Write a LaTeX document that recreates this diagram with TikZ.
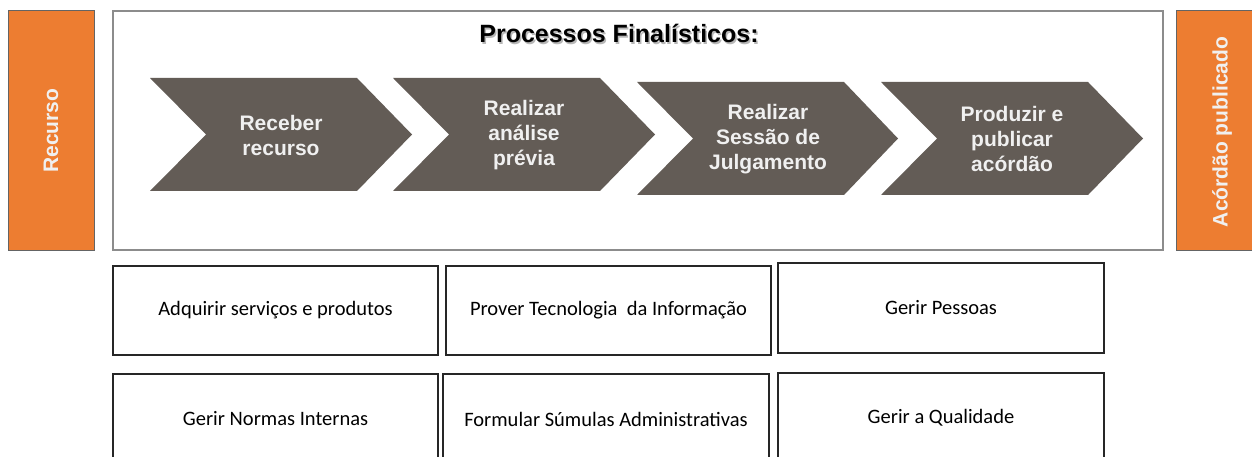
\documentclass[tikz,border=0pt]{standalone}
\usepackage{fontspec}
\setmainfont{Liberation Sans}
\newfontfamily\boxfont{Carlito}
\definecolor{chevfill}{RGB}{99,92,86}
\definecolor{orng}{RGB}{237,125,49}
\definecolor{framegray}{RGB}{140,140,140}
\definecolor{edgegray}{RGB}{100,100,100}
\definecolor{lighttext}{RGB}{240,240,240}
\tikzset{
  orangebox/.style={fill=orng, draw=edgegray, line width=1pt},
  mainframe/.style={draw=framegray, line width=1.5pt},
  chev/.style={fill=chevfill},
  chevtext/.style={text=lighttext, font=\bfseries\fontsize{21}{25}\selectfont, align=center, inner sep=0pt},
  sidetext/.style={text=lighttext, font=\bfseries\fontsize{21}{25}\selectfont, rotate=90, inner sep=0pt},
  supbox/.style={draw=black!85, line width=1.2pt, font=\boxfont\fontsize{20.5}{24}\selectfont, inner sep=0pt, align=center},
  titletext/.style={font=\bfseries\fontsize{25}{30}\selectfont, inner sep=0pt, anchor=base}
}
\begin{document}
\begin{tikzpicture}[x=1pt,y=-1pt]
\path[use as bounding box] (0,0) rectangle (1252,457);
\clip (0,0) rectangle (1252,457);
\fill[white] (0,0) rectangle (1252,457);
% side boxes
\path[orangebox] (8,11) rectangle (94,250);
\node[sidetext] (recurso) at (51,130.5) {Recurso};
\path[orangebox] (1176,11) rectangle (1268,250);
\node[sidetext] (acordao) at (1222,132) {Acórdão publicado};
% main frame
\path[mainframe] (113,11) rectangle (1163,250);
\node[titletext, text=black!35, opacity=0.8] (titleshadow) at (620.5,44.5) {Processos Finalísticos:};
\node[titletext] (title) at (619,43) {Processos Finalísticos:};
% chevrons
\path[chev] (150,78) -- (357,78) -- (412,134.5) -- (357,191) -- (150,191) -- (206,134.5) -- cycle;
\node[chevtext] (p1) at (281,135) {Receber\\recurso};
\path[chev] (393,78) -- (600,78) -- (655,134.5) -- (600,191) -- (393,191) -- (449,134.5) -- cycle;
\node[chevtext] (p2) at (524,135) {Realizar\\análise\\prévia};
\path[chev] (637,82) -- (844,82) -- (898,138.5) -- (844,195) -- (637,195) -- (693,138.5) -- cycle;
\node[chevtext] (p3) at (768,139) {Realizar\\Sessão de\\Julgamento};
\path[chev] (881,82) -- (1088,82) -- (1143,138.5) -- (1088,195) -- (881,195) -- (937,138.5) -- cycle;
\node[chevtext] (p4) at (1012,139) {Produzir e\\publicar\\acórdão};
% support boxes
\node[supbox, minimum width=325pt, minimum height=89pt] (b1) at (275.5,310.5) {Adquirir serviços e produtos};
\node[supbox, minimum width=325pt, minimum height=89pt] (b2) at (608.5,310.5) {Prover Tecnologia\ \ da Informação};
\node[supbox, minimum width=326pt, minimum height=90pt] (b3) at (941,308) {Gerir Pessoas};
\node[supbox, minimum width=325pt, minimum height=90pt] (c1) at (275.5,419) {Gerir Normas Internas};
\node[supbox, minimum width=326pt, minimum height=90pt] (c2) at (606,419) {Formular Súmulas Administrativas};
\node[supbox, minimum width=326pt, minimum height=90pt] (c3) at (941,418) {Gerir a Qualidade};
\end{tikzpicture}
\end{document}
